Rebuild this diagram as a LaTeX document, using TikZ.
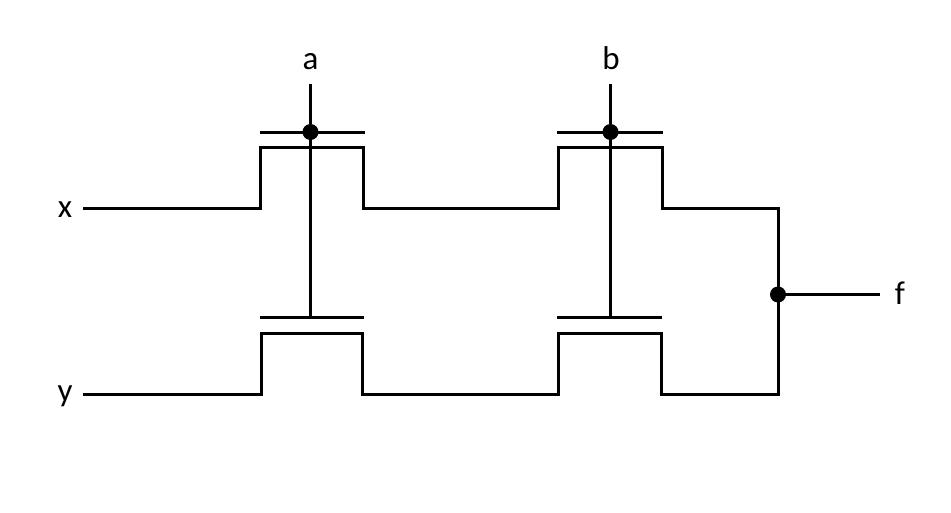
\documentclass[tikz,border=0pt]{standalone}
\usepackage{fontspec}
\setmainfont{Carlito}
\usetikzlibrary{positioning}
\begin{document}
\begin{tikzpicture}[
        x=1pt, y=-1pt,
        wire/.style={line width=3pt, line join=miter},
        dot/.style={circle, fill=black, inner sep=0pt, minimum size=16pt},
        label/.style={font=\fontsize{33}{33}\selectfont, inner sep=0pt}
    ]
    \useasboundingbox (0,0) rectangle (951,512);

    % Labels
    \node[label] (x) at (65,210) {x};
    \node[label] (y) at (65,396) {y};
    \node[label] (a) at (310.5,62) {a};
    \node[label] (b) at (611,58) {b};
    \node[label] (f) at (900,293) {f};

    % Gate contacts
    \node[dot] (dota) at (310.5,132) {};
    \node[dot] (dotb) at (610.5,132) {};
    \node[dot] (dotf) at (778,294.5) {};

    % Free ends
    \coordinate (xend) at (83,208.5);
    \coordinate (yend) at (83,394);
    \coordinate (aend) at (310.5,84);
    \coordinate (bend) at (610.5,84);
    \coordinate (fend) at (880,294.5);
    \coordinate (abot) at (310.5,317);
    \coordinate (bbot) at (610.5,317);

    % Upper rail
    \draw[wire] (xend) -- (260.5,208.5) -- (260.5,147) -- (363,147) -- (363,208.5)
        -- (558,208.5) -- (558,147) -- (662,147) -- (662,208.5)
        -- (778,208.5) -- (dotf.center);
    % Lower rail
    \draw[wire] (yend) -- (261.5,394) -- (261.5,333) -- (362.5,333) -- (362.5,394)
        -- (558,394) -- (558,333) -- (661,333) -- (661,394)
        -- (778,394) -- (dotf.center);

    % Gate bars
    \draw[wire] (260,132) -- (365,132);
    \draw[wire] (557,132) -- (663,132);
    \draw[wire] (260,317) -- (364,317);
    \draw[wire] (557,317) -- (662,317);

    % Gate stems
    \draw[wire] (aend) -- (dota);
    \draw[wire] (dota) -- (abot);
    \draw[wire] (bend) -- (dotb);
    \draw[wire] (dotb) -- (bbot);

    % Output
    \draw[wire] (dotf) -- (fend);
\end{tikzpicture}
\end{document}
